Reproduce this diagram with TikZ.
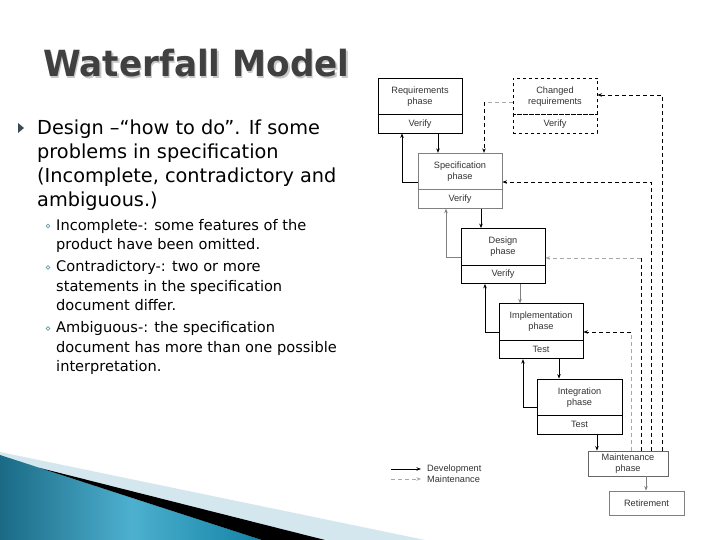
\documentclass[tikz,border=0pt]{standalone}
\usepackage{fontspec}
\setmainfont{DejaVu Sans}
\newfontfamily\slidefont{DejaVu Sans}
\newfontfamily\titlefont[FakeStretch=0.95]{DejaVu Sans}
\newfontfamily\diagfont{Liberation Sans}
\usetikzlibrary{arrows.meta,calc}
\definecolor{txt}{HTML}{333333}
\definecolor{titlec}{HTML}{404040}
\definecolor{shadowc}{HTML}{C8C8C8}
\definecolor{tealA}{HTML}{1A6A85}
\definecolor{tealB}{HTML}{4DB0CF}
\definecolor{tealC}{HTML}{1383A6}
\definecolor{lightband}{HTML}{D4E7EE}
\definecolor{maintgray}{HTML}{A8A8A8}
\definecolor{boxgray}{HTML}{808080}
\definecolor{bulletc}{HTML}{3A4A55}
\definecolor{subbulc}{HTML}{6A9AAA}
\tikzset{
  phasebox/.style={draw=black, line width=0.8pt, minimum width=84pt, minimum height=36.5pt,
    inner sep=0pt, align=center, font=\diagfont\fontsize{9.2}{11}\selectfont, text=txt},
  verbox/.style={phasebox, minimum height=18.5pt},
  devline/.style={draw=black, line width=0.8pt, -{Stealth[length=4.5pt,width=3.5pt]}},
  devgray/.style={devline, draw=boxgray},
  maintline/.style={draw=black, line width=0.8pt, dash pattern=on 4pt off 3pt, -{Stealth[length=4.5pt,width=3.5pt]}},
  maintgrayline/.style={maintline, draw=maintgray},
  plainseg/.style={-},
  bigtxt/.style={anchor=base west, inner sep=0pt, font=\slidefont\fontsize{19.3}{24}\selectfont, text=black},
  subtxt/.style={anchor=base west, inner sep=0pt, font=\slidefont\fontsize{14.6}{19}\selectfont, text=black},
  legendtxt/.style={anchor=west, inner sep=0pt, font=\diagfont\fontsize{9.2}{11}\selectfont, text=txt},
}
\begin{document}
\begin{tikzpicture}[x=1pt,y=1pt]
\useasboundingbox (0,0) rectangle (720,-540);
\fill[white] (0,0) rectangle (720,-540);

% bottom-left decoration
\fill[lightband] (0,-452) -- (425,-540) -- (0,-540) -- cycle;
\shade[left color=tealA, right color=tealC, middle color=tealB] (0,-455) -- (262,-540) -- (0,-540) -- cycle;
\fill[black] (40,-468) -- (325,-540) -- (262,-540) -- cycle;

% title
\node[anchor=base west, inner sep=0pt, font=\titlefont\bfseries\fontsize{36}{40}\selectfont, text=shadowc] (titleshadow) at (44.5,-78.5) {Waterfall Model};
\node[anchor=base west, inner sep=0pt, font=\titlefont\bfseries\fontsize{36}{40}\selectfont, text=titlec] (title) at (43,-77) {Waterfall Model};

% bullets
\fill[bulletc] (18,-123) -- (24,-128) -- (18,-133) -- cycle;
\node[bigtxt] (b1) at (37,-135) {Design –“how to do”. If some};
\node[bigtxt] (b2) at (37,-159) {problems in specification};
\node[bigtxt] (b3) at (37,-183) {(Incomplete, contradictory and};
\node[bigtxt] (b4) at (37,-207) {ambiguous.)};

\foreach \yy in {226,267.5,328.5} \draw[subbulc, line width=0.7pt] (48,-\yy) circle (1.8);
\node[subtxt] (s1) at (56,-230) {Incomplete-: some features of the};
\node[subtxt] (s2) at (56,-249.5) {product have been omitted.};
\node[subtxt] (s3) at (56,-271.5) {Contradictory-: two or more};
\node[subtxt] (s4) at (56,-291) {statements in the specification};
\node[subtxt] (s5) at (56,-310.5) {document differ.};
\node[subtxt] (s6) at (56,-332.5) {Ambiguous-: the specification};
\node[subtxt] (s7) at (56,-352) {document has more than one possible};
\node[subtxt] (s8) at (56,-371.5) {interpretation.};

% phase boxes
\node[phasebox] (req) at (420,-96.25) {Requirements\\phase};
\node[verbox] (reqv) at (420,-123.75) {Verify};
\node[phasebox, dashed] (chg) at (555,-96.25) {Changed\\requirements};
\node[verbox, dashed] (chgv) at (555,-123.75) {Verify};
\node[phasebox, draw=boxgray] (spec) at (460,-171.5) {Specification\\phase};
\node[verbox, draw=boxgray] (specv) at (460,-199) {Verify};
\node[phasebox] (des) at (503,-246.75) {Design\\phase};
\node[verbox] (desv) at (503,-274.25) {Verify};
\node[phasebox] (imp) at (541,-322) {Implementation\\phase};
\node[verbox] (impv) at (541,-349.5) {Test};
\node[phasebox, minimum width=85pt] (intg) at (579.5,-397.25) {Integration\\phase};
\node[verbox, minimum width=85pt] (intgv) at (579.5,-424.75) {Test};
\node[phasebox, draw=boxgray!80!black, minimum width=80pt, minimum height=25pt] (mnt) at (628,-463.5) {Maintenance\\phase};
\node[phasebox, draw=boxgray, minimum width=75pt, minimum height=24pt] (ret) at (646.5,-503) {Retirement};

% development connectors
\draw[devline] (reqv.south -| 438,0) -- (spec.north -| 438,0);
\draw[devline] (spec.west |- 0,-182) -| (reqv.south -| 402,0);
\draw[devline] (specv.south -| 481,0) -- (des.north -| 481,0);
\draw[devgray] (des.west |- 0,-257) -| (specv.south -| 446,0);
\draw[devgray] (desv.south -| 520,0) -- (imp.north -| 520,0);
\draw[devline] (imp.west |- 0,-332) -| (desv.south -| 485,0);
\draw[devline] (impv.south -| 559,0) -- (intg.north -| 559,0);
\draw[devline] (intg.west |- 0,-407) -| (impv.south -| 523,0);
\draw[devline] (intgv.south -| 597,0) -- (mnt.north -| 597,0);
\draw[devgray] (mnt.south -| 646,0) -- (ret.north -| 646,0);

% maintenance connectors
\coordinate (c484) at (484,-102);
\draw[maintgrayline, plainseg] (chg.west |- c484) -- (c484);
\draw[maintline] (c484) -- (spec.north -| c484);
\draw[maintline] (mnt.north -| 662,0) |- (chg.east |- 0,-95);
\draw[maintline] (mnt.north -| 651,0) |- (spec.east |- 0,-182);
\coordinate (c641) at (641,-258);
\draw[maintline, plainseg] (mnt.north -| c641) -- (c641);
\draw[maintgrayline] (c641) -- (des.east |- c641);
\coordinate (c631) at (631,-332);
\draw[maintgrayline, plainseg] (mnt.north -| c631) -- (c631);
\draw[maintline] (c631) -- (imp.east |- c631);

% legend
\coordinate (lgA) at (391,-469);
\coordinate (lgB) at (421,-469);
\coordinate (lgC) at (391,-479);
\coordinate (lgD) at (421,-479);
\draw[devline] (lgA) -- (lgB);
\draw[maintgrayline] (lgC) -- (lgD);
\node[legendtxt] (lgdev) at (427,-469) {Development};
\node[legendtxt] (lgmnt) at (427,-479) {Maintenance};
\end{tikzpicture}
\end{document}
